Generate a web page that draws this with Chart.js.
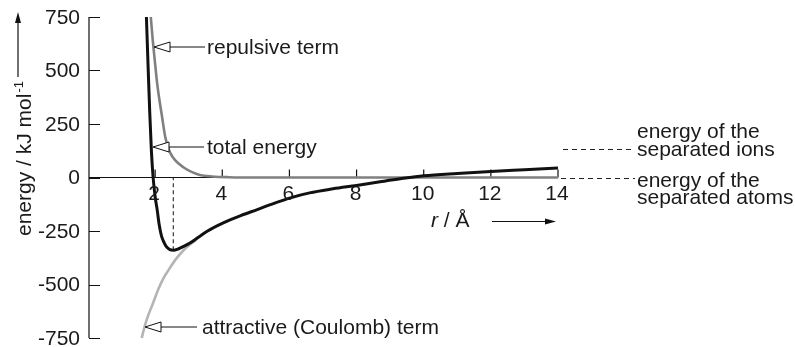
<!DOCTYPE html>
<html>
<head>
<meta charset="utf-8">
<script src="https://cdn.jsdelivr.net/npm/chart.js@4/dist/chart.umd.min.js"></script>
<style>
  body { margin: 0; background: #fff; }
  canvas { display: block; }
</style>
</head>
<body>
<canvas id="chart" width="795" height="347"></canvas>
<script>
// values (r in Å, energy in kJ/mol)
const rTotal = [1.74, 1.79, 1.84, 1.89, 1.94, 2.0, 2.06, 2.12, 2.19, 2.27, 2.34, 2.44, 2.54, 2.7, 2.85, 3.05, 3.3, 3.55, 4.03, 4.55, 5.04, 5.54, 6.03, 6.6, 7.3, 8.0, 8.7, 9.3, 10, 11, 12, 13, 14];
const eTotal = [750, 520, 300, 120, 0, -90, -150, -220, -274, -305, -324, -337, -340, -333, -322, -305, -278, -251, -212, -178, -150, -121, -95, -72, -53, -37, -20, -6, 8, 19, 28, 36, 44];

const rRepulsive = [1.87, 1.93, 2.0, 2.06, 2.13, 2.2, 2.3, 2.35, 2.45, 2.6, 2.84, 3.1, 3.33, 3.7, 4.2, 5, 14];
const eRepulsive = [750, 640, 530, 440, 360, 290, 190, 160, 115, 80, 48, 25, 12, 5, 1.5, 0, 0];

const rAttractive = [1.6, 1.68, 1.78, 1.93, 2.1, 2.25, 2.39, 2.6, 2.84, 3.05, 3.22];
const eAttractive = [-750, -700, -650, -590, -520, -470, -435, -385, -341, -312, -292];

const xTicks = [2, 4, 6, 8, 10, 12, 14];
const yTicks = [750, 500, 250, 0, -250, -500, -750];

const FONT = '"Liberation Sans", Arial, sans-serif';

function pts(xs, ys) {
  return xs.map((x, i) => ({ x: x, y: ys[i] }));
}

function openArrow(ctx, tipX, y, lineEnd) {
  ctx.save();
  ctx.strokeStyle = '#111';
  ctx.lineWidth = 1;
  ctx.beginPath();
  ctx.moveTo(tipX + 16, y);
  ctx.lineTo(lineEnd, y);
  ctx.stroke();
  ctx.beginPath();
  ctx.moveTo(tipX, y);
  ctx.lineTo(tipX + 16, y - 5);
  ctx.lineTo(tipX + 16, y + 5);
  ctx.closePath();
  ctx.fillStyle = '#fff';
  ctx.fill();
  ctx.stroke();
  ctx.restore();
}

const deco = {
  id: 'deco',
  beforeDatasetsDraw(chart) {
    const ctx = chart.ctx;
    const xs = chart.scales.x, ys = chart.scales.y;
    const left = xs.getPixelForValue(0) + 1;
    const y0 = ys.getPixelForValue(0);
    ctx.save();
    ctx.strokeStyle = '#111';
    ctx.lineWidth = 1.2;
    // y axis and inward ticks
    ctx.beginPath();
    ctx.moveTo(left, ys.getPixelForValue(750));
    ctx.lineTo(left, ys.getPixelForValue(-750));
    yTicks.forEach(v => {
      const py = Math.round(ys.getPixelForValue(v)) + 0.5;
      ctx.moveTo(left, py);
      ctx.lineTo(left + 11, py);
    });
    ctx.stroke();
    // zero line with upward ticks
    ctx.beginPath();
    ctx.moveTo(left, y0);
    ctx.lineTo(xs.getPixelForValue(14), y0);
    xTicks.forEach(v => {
      const px = xs.getPixelForValue(v);
      ctx.moveTo(px, y0);
      ctx.lineTo(px, y0 - 8);
    });
    ctx.stroke();
    // dashed line at the minimum of the total energy
    let iMin = 0;
    eTotal.forEach((e, i) => { if (e < eTotal[iMin]) iMin = i; });
    const pm = xs.getPixelForValue(rTotal[iMin]);
    ctx.lineWidth = 1;
    ctx.setLineDash([4, 3]);
    ctx.beginPath();
    ctx.moveTo(pm, ys.getPixelForValue(eTotal[iMin]));
    ctx.lineTo(pm, y0);
    ctx.stroke();
    ctx.restore();
  },
  afterDatasetsDraw(chart) {
    const ctx = chart.ctx;
    const xs = chart.scales.x, ys = chart.scales.y;
    const y0 = ys.getPixelForValue(0);
    ctx.save();
    ctx.fillStyle = '#1a1a1a';
    ctx.font = '21px ' + FONT;
    // y tick labels
    ctx.textAlign = 'right';
    ctx.textBaseline = 'middle';
    yTicks.forEach(v => ctx.fillText(String(v), 80, ys.getPixelForValue(v) + 1));
    // x tick labels
    ctx.textAlign = 'center';
    ctx.textBaseline = 'alphabetic';
    xTicks.forEach(v => ctx.fillText(String(v), xs.getPixelForValue(v) - 1, y0 + 22));

    // y title, rotated
    ctx.save();
    ctx.translate(31, 236);
    ctx.rotate(-Math.PI / 2);
    ctx.textAlign = 'left';
    ctx.fillText('energy / kJ mol', 0, 0);
    const w = ctx.measureText('energy / kJ mol').width;
    ctx.font = '13px ' + FONT;
    ctx.fillText('-1', w + 1, -8);
    ctx.restore();
    // arrow up
    ctx.strokeStyle = '#111';
    ctx.lineWidth = 1.2;
    ctx.beginPath();
    ctx.moveTo(18, 77);
    ctx.lineTo(18, 20);
    ctx.stroke();
    ctx.beginPath();
    ctx.moveTo(18, 12);
    ctx.lineTo(15, 23);
    ctx.lineTo(21, 23);
    ctx.closePath();
    ctx.fillStyle = '#111';
    ctx.fill();

    // x title
    ctx.fillStyle = '#1a1a1a';
    ctx.font = 'italic 21px ' + FONT;
    ctx.textAlign = 'left';
    ctx.fillText('r', 431, 227);
    const rw = ctx.measureText('r').width;
    ctx.font = '21px ' + FONT;
    ctx.fillText(' / Å', 431 + rw, 227);
    ctx.beginPath();
    ctx.moveTo(492, 221.5);
    ctx.lineTo(546, 221.5);
    ctx.stroke();
    ctx.beginPath();
    ctx.moveTo(556, 221.5);
    ctx.lineTo(545, 218.5);
    ctx.lineTo(545, 224.5);
    ctx.closePath();
    ctx.fillStyle = '#111';
    ctx.fill();

    // curve annotations
    ctx.fillStyle = '#1a1a1a';
    ctx.textBaseline = 'middle';
    openArrow(ctx, 154, 47, 205);
    ctx.fillText('repulsive term', 207, 48);
    openArrow(ctx, 153, 147, 204);
    ctx.fillText('total energy', 207, 148);
    openArrow(ctx, 145, 327, 197);
    ctx.fillText('attractive (Coulomb) term', 202, 328);

    // right-hand labels
    ctx.textBaseline = 'alphabetic';
    ctx.fillText('energy of the', 637, 138);
    ctx.fillText('separated ions', 637, 156);
    ctx.fillText('energy of the', 637, 187);
    ctx.fillText('separated atoms', 637, 204);
    ctx.strokeStyle = '#222';
    ctx.lineWidth = 1;
    ctx.setLineDash([5, 4]);
    ctx.beginPath();
    ctx.moveTo(563, 149.5);
    ctx.lineTo(635, 149.5);
    ctx.moveTo(561, Math.round(y0) + 0.5);
    ctx.lineTo(635, Math.round(y0) + 0.5);
    ctx.stroke();
    ctx.restore();
  }
};

new Chart(document.getElementById('chart'), {
  type: 'line',
  data: {
    datasets: [
      {
        label: 'total energy',
        data: pts(rTotal, eTotal),
        borderColor: '#111111',
        borderWidth: 3,
        order: 0
      },
      {
        label: 'repulsive term',
        data: pts(rRepulsive, eRepulsive),
        borderColor: '#808080',
        borderWidth: 2.6,
        order: 1
      },
      {
        label: 'attractive (Coulomb) term',
        data: pts(rAttractive, eAttractive),
        borderColor: '#b4b4b4',
        borderWidth: 2.6,
        order: 2
      }
    ]
  },
  options: {
    responsive: false,
    animation: false,
    layout: { padding: { left: 88, right: 237, top: 17, bottom: 9 } },
    elements: {
      point: { radius: 0 },
      line: { cubicInterpolationMode: 'monotone', fill: false }
    },
    scales: {
      x: { type: 'linear', min: 0, max: 14, display: false },
      y: { type: 'linear', min: -750, max: 750, display: false }
    },
    plugins: {
      legend: { display: false },
      tooltip: { enabled: false }
    }
  },
  plugins: [deco]
});
</script>
</body>
</html>
